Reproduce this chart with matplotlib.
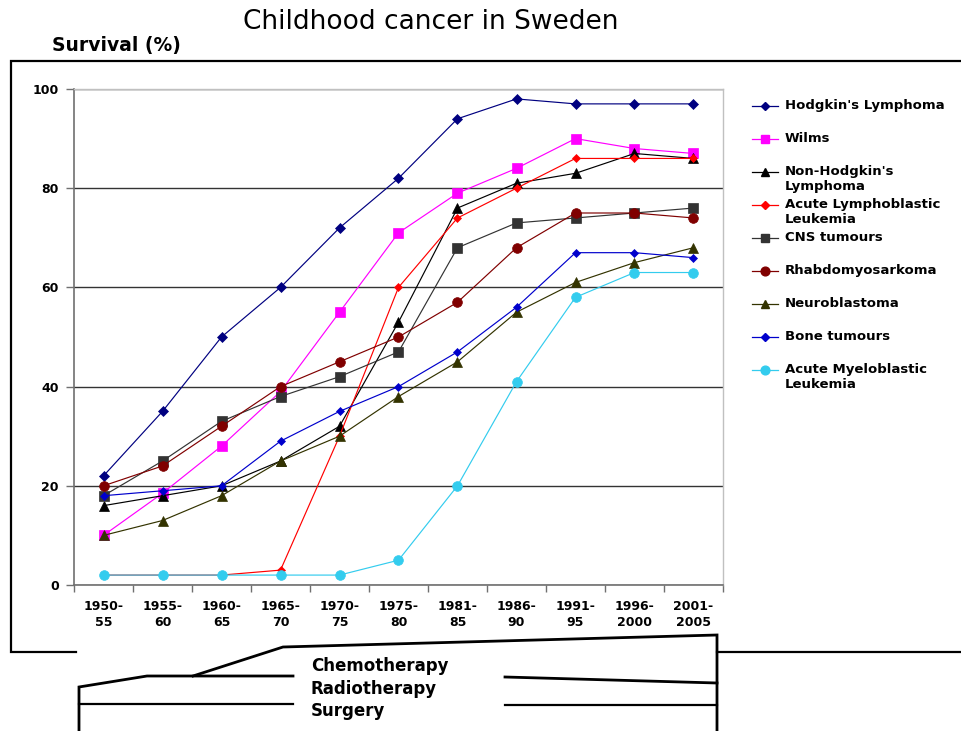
import matplotlib
matplotlib.use("Agg")
import matplotlib.pyplot as plt
from matplotlib.lines import Line2D
import numpy as np

periods = ["1950-\n55", "1955-\n60", "1960-\n65", "1965-\n70", "1970-\n75", "1975-\n80",
           "1981-\n85", "1986-\n90", "1991-\n95", "1996-\n2000", "2001-\n2005"]

hodgkin = [22, 35, 50, 60, 72, 82, 94, 98, 97, 97, 97]
wilms = [10, 18.5, 28, 39, 55, 71, 79, 84, 90, 88, 87]
nhl = [16, 18, 20, 25, 32, 53, 76, 81, 83, 87, 86]
all_leuk = [2, 2, 2, 3, 30, 60, 74, 80, 86, 86, 86]
cns = [18, 25, 33, 38, 42, 47, 68, 73, 74, 75, 76]
rhabdo = [20, 24, 32, 40, 45, 50, 57, 68, 75, 75, 74]
neuro = [10, 13, 18, 25, 30, 38, 45, 55, 61, 65, 68]
bone = [18, 19, 20, 29, 35, 40, 47, 56, 67, 67, 66]
aml = [2, 2, 2, 2, 2, 5, 20, 41, 58, 63, 63]

series_names = ["Hodgkin's Lymphoma", "Wilms", "Non-Hodgkin's\nLymphoma",
                "Acute Lymphoblastic\nLeukemia", "CNS tumours", "Rhabdomyosarkoma",
                "Neuroblastoma", "Bone tumours", "Acute Myeloblastic\nLeukemia"]
series_values = [hodgkin, wilms, nhl, all_leuk, cns, rhabdo, neuro, bone, aml]
styles = [
    dict(color="#000080", marker="D", ms=4.8),
    dict(color="#FF00FF", marker="s", ms=6.5),
    dict(color="#000000", marker="^", ms=7),
    dict(color="#FF0000", marker="D", ms=4.2),
    dict(color="#333333", marker="s", ms=7),
    dict(color="#800000", marker="o", ms=7),
    dict(color="#333300", marker="^", ms=6.5),
    dict(color="#0000CC", marker="D", ms=4.2),
    dict(color="#33CCEE", marker="o", ms=7),
]

W, H = 962, 731
fig = plt.figure(figsize=(W / 100, H / 100), dpi=100)
fig.patch.set_facecolor("white")


def fx(x):
    return x / W


def fy(y):
    return 1 - y / H


ax_l, ax_r, ax_t, ax_b = 74, 723, 89, 585
ax = fig.add_axes([fx(ax_l), fy(ax_b), (ax_r - ax_l) / W, (ax_b - ax_t) / H])
x = np.arange(len(periods))
for vals, st in zip(series_values, styles):
    ax.plot(x, vals, color=st["color"], lw=0.85, marker=st["marker"], ms=st["ms"],
            mfc=st["color"], mec=st["color"], mew=0.5, zorder=3)

ax.set_xlim(-0.5, len(periods) - 0.5)
ax.set_ylim(0, 100)
ax.set_yticks([0, 20, 40, 60, 80, 100])
ax.set_xticks(x)
ax.set_xticklabels(periods, fontsize=9, fontweight="bold", family="DejaVu Sans",
                   linespacing=1.3)
ax.set_xticks(np.arange(-0.5, len(periods), 1), minor=True)
ax.tick_params(axis="x", which="major", length=0, pad=11)
ax.tick_params(axis="x", which="minor", length=5, color="#707070", width=1, direction="out")
ax.tick_params(axis="y", length=6, color="#707070", width=1, direction="out", pad=5,
               labelsize=9)
for lab in ax.get_yticklabels():
    lab.set_fontweight("bold")
ax.yaxis.grid(True, color="#333333", lw=1)
ax.set_axisbelow(True)
for s in ["left", "bottom"]:
    ax.spines[s].set_color("#707070")
    ax.spines[s].set_linewidth(1.2)
for s in ["top", "right"]:
    ax.spines[s].set_color("#C0C0C0")
    ax.spines[s].set_linewidth(1)

# Title and y label
fig.text(fx(431), fy(22), "Childhood cancer in Sweden", fontsize=19, ha="center",
         va="center", family="DejaVu Sans")
fig.text(fx(52), fy(46), "Survival (%)", fontsize=13.5, fontweight="bold", ha="left",
         va="center", family="DejaVu Sans")

# Legend (manual)
leg_y = [106, 139, 172, 205, 238, 271, 304, 337, 370]
for name, st, yy in zip(series_names, styles, leg_y):
    fig.add_artist(Line2D([fx(752), fx(778)], [fy(yy), fy(yy)], transform=fig.transFigure,
                          color=st["color"], lw=0.9, marker=None))
    fig.add_artist(Line2D([fx(765)], [fy(yy)], transform=fig.transFigure,
                          color=st["color"], marker=st["marker"], ms=st["ms"] * 0.9,
                          mfc=st["color"], mec=st["color"], lw=0))
    fig.text(fx(785), fy(yy - 7), name, fontsize=9.5, fontweight="bold", ha="left", va="top",
             family="DejaVu Sans", linespacing=1.2)

# Outer frame
def seg(pts, lw=1.6):
    xs = [fx(p[0]) for p in pts]
    ys = [fy(p[1]) for p in pts]
    fig.add_artist(Line2D(xs, ys, transform=fig.transFigure, color="black", lw=lw,
                          solid_joinstyle="miter"))


seg([(962, 61), (11, 61), (11, 652), (76, 652)])
seg([(717, 652), (962, 652)])

# Therapy diagram
seg([(79, 731), (79, 687), (147, 676), (293, 676)], lw=2)
seg([(193, 676), (283, 647), (717, 635), (717, 731)], lw=2)
seg([(505, 677), (717, 683)], lw=2)
seg([(79, 704), (293, 704)], lw=1.6)
seg([(505, 705), (717, 705)], lw=1.6)

for txt, yy in [("Chemotherapy", 666), ("Radiotherapy", 689), ("Surgery", 711)]:
    fig.text(fx(311), fy(yy), txt, fontsize=12, fontweight="bold", ha="left", va="center",
             family="DejaVu Sans")

fig.savefig("out.png", dpi=100)
